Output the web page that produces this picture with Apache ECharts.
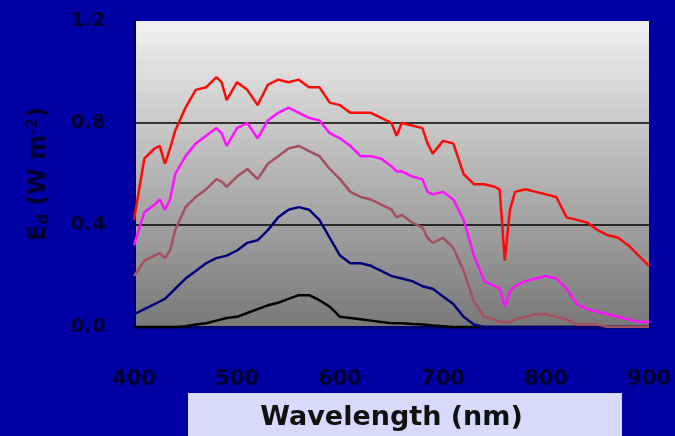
<!DOCTYPE html>
<html>
<head>
<meta charset="utf-8">
<script src="https://cdn.jsdelivr.net/npm/echarts@6/dist/echarts.min.js"></script>
<style>
  html, body { margin: 0; padding: 0; background: #0000a5; }
  #main { width: 675px; height: 436px; }
</style>
</head>
<body>
<div id="main"></div>
<script>
// wavelengths (nm), shared by every curve
var wavelengths = [400, 410, 420, 425, 430, 435, 440, 450, 460, 470, 480, 485, 490,
    500, 510, 520, 530, 540, 550, 560, 570, 580, 590, 600, 610, 620, 630, 640, 650,
    655, 660, 670, 680, 685, 690, 700, 710, 720, 730, 740, 750, 755, 760, 765,
    770, 780, 790, 800, 810, 820, 830, 840, 850, 860, 870, 880, 890, 900];

// Ed (W m-2 nm-1), one array per depth
var edRed = [0.42, 0.66, 0.70, 0.71, 0.64, 0.70, 0.77, 0.86, 0.93, 0.94, 0.98, 0.96, 0.89,
    0.96, 0.93, 0.87, 0.95, 0.97, 0.96, 0.97, 0.94, 0.94, 0.88, 0.87, 0.84, 0.84, 0.84, 0.82, 0.80,
    0.75, 0.80, 0.79, 0.78, 0.72, 0.68, 0.73, 0.72, 0.60, 0.56, 0.56, 0.55, 0.54, 0.26, 0.46,
    0.53, 0.54, 0.53, 0.52, 0.51, 0.43, 0.42, 0.41, 0.38, 0.36, 0.35, 0.32, 0.28, 0.24];
var edMagenta = [0.32, 0.45, 0.48, 0.50, 0.46, 0.50, 0.60, 0.67, 0.72, 0.75, 0.78, 0.76, 0.71,
    0.78, 0.80, 0.74, 0.81, 0.84, 0.86, 0.84, 0.82, 0.81, 0.76, 0.74, 0.71, 0.67, 0.67, 0.66, 0.63,
    0.61, 0.61, 0.59, 0.58, 0.53, 0.52, 0.53, 0.50, 0.42, 0.28, 0.18, 0.16, 0.15, 0.08, 0.14,
    0.16, 0.18, 0.19, 0.20, 0.19, 0.15, 0.09, 0.07, 0.06, 0.05, 0.04, 0.03, 0.02, 0.02];
var edBrown = [0.20, 0.26, 0.28, 0.29, 0.27, 0.30, 0.38, 0.47, 0.51, 0.54, 0.58, 0.57, 0.55,
    0.59, 0.62, 0.58, 0.64, 0.67, 0.70, 0.71, 0.69, 0.67, 0.62, 0.58, 0.53, 0.51, 0.50, 0.48, 0.46,
    0.43, 0.44, 0.41, 0.39, 0.35, 0.33, 0.35, 0.31, 0.22, 0.10, 0.04, 0.03, 0.02, 0.02, 0.02,
    0.03, 0.04, 0.05, 0.05, 0.04, 0.03, 0.01, 0.01, 0.01, 0, 0, 0, 0, 0];
var edNavy = [0.05, 0.07, 0.09, 0.10, 0.11, 0.13, 0.15, 0.19, 0.22, 0.25, 0.27, 0.275, 0.28,
    0.30, 0.33, 0.34, 0.38, 0.43, 0.46, 0.47, 0.46, 0.42, 0.35, 0.28, 0.25, 0.25, 0.24, 0.22, 0.20,
    0.195, 0.19, 0.18, 0.16, 0.155, 0.15, 0.12, 0.09, 0.04, 0.01, 0, 0, 0, 0, 0,
    0, 0, 0, 0, 0, 0, 0, 0, 0, 0, 0, 0, 0, 0];
var edBlack = [0, 0, 0, 0, 0, 0, 0, 0.003, 0.01, 0.015, 0.025, 0.03, 0.035,
    0.04, 0.055, 0.07, 0.085, 0.095, 0.11, 0.125, 0.125, 0.105, 0.08, 0.04, 0.035, 0.03, 0.025, 0.02, 0.015,
    0.015, 0.015, 0.012, 0.01, 0.008, 0.006, 0.003, 0, 0, 0, 0, 0, 0, 0, 0,
    0, 0, 0, 0, 0, 0, 0, 0, 0, 0, 0, 0, 0, 0];

var xTicks = ['400', '500', '600', '700', '800', '900'];
var yTicks = ['0.0', '0.4', '0.8', '1.2'];

function pairs(vals) {
    return wavelengths.map(function (w, i) { return [w, vals[i]]; });
}

function curve(vals, color) {
    return {
        type: 'line',
        data: pairs(vals),
        showSymbol: false,
        silent: true,
        lineStyle: { color: color, width: 2.5 },
        itemStyle: { color: color }
    };
}

var chart = echarts.init(document.getElementById('main'));

chart.setOption({
    backgroundColor: '#0000a5',
    animation: false,
    textStyle: { fontFamily: 'DejaVu Sans' },
    grid: {
        left: 134, right: 26, top: 21, bottom: 109,
        outerBoundsMode: 'none',
        show: true,
        borderWidth: 0,
        backgroundColor: new echarts.graphic.LinearGradient(0, 0, 0, 1, [
            { offset: 0, color: '#f1f1f1' },
            { offset: 1, color: '#787878' }
        ])
    },
    // lavender panel behind the x axis title
    graphic: [{
        type: 'rect',
        z: -10,
        shape: { x: 188, y: 393, width: 434, height: 50 },
        style: { fill: '#d9d9fb' }
    }],
    xAxis: {
        type: 'value',
        min: 400, max: 900, interval: 100,
        axisLine: { lineStyle: { color: '#000070', width: 3 } },
        axisTick: { show: false },
        splitLine: { show: false },
        axisLabel: {
            margin: 42,
            fontSize: 21,
            fontWeight: 'bold',
            color: '#000030',
            formatter: function (v) { return xTicks[(v - 400) / 100]; }
        },
        name: 'Wavelength (nm)',
        nameLocation: 'middle',
        nameGap: 77,
        nameTextStyle: {
            fontSize: 27,
            fontWeight: 'bold',
            color: '#111111'
        }
    },
    yAxis: {
        type: 'value',
        min: 0, max: 1.2, interval: 0.4,
        axisLine: { show: true, lineStyle: { color: '#000070', width: 3 } },
        axisTick: { show: false },
        splitLine: {
            show: true,
            lineStyle: { color: ['transparent', '#000000', '#000000', 'transparent'], width: 1.5 }
        },
        axisLabel: {
            margin: 28,
            fontSize: 20,
            fontWeight: 'bold',
            color: '#000030',
            formatter: function (v) { return yTicks[Math.round(v / 0.4)]; }
        },
        name: '{a|E}{sub|d}{a| (W m}{sup|-2}{a|)}',
        nameLocation: 'middle',
        nameGap: 82,
        nameTextStyle: {
            rich: {
                a: { fontSize: 24, fontWeight: 'bold', color: '#000030', fontFamily: 'DejaVu Sans' },
                sub: { fontSize: 15, fontWeight: 'bold', color: '#000030', fontFamily: 'DejaVu Sans', padding: [11, 0, 0, 0] },
                sup: { fontSize: 15, fontWeight: 'bold', color: '#000030', fontFamily: 'DejaVu Sans', padding: [0, 0, 11, 0] }
            }
        }
    },
    series: [
        curve(edBlack, '#000000'),
        curve(edNavy, '#00007a'),
        curve(edBrown, '#a5505f'),
        curve(edMagenta, '#ff10ff'),
        curve(edRed, '#ff0808')
    ]
});
</script>
</body>
</html>
